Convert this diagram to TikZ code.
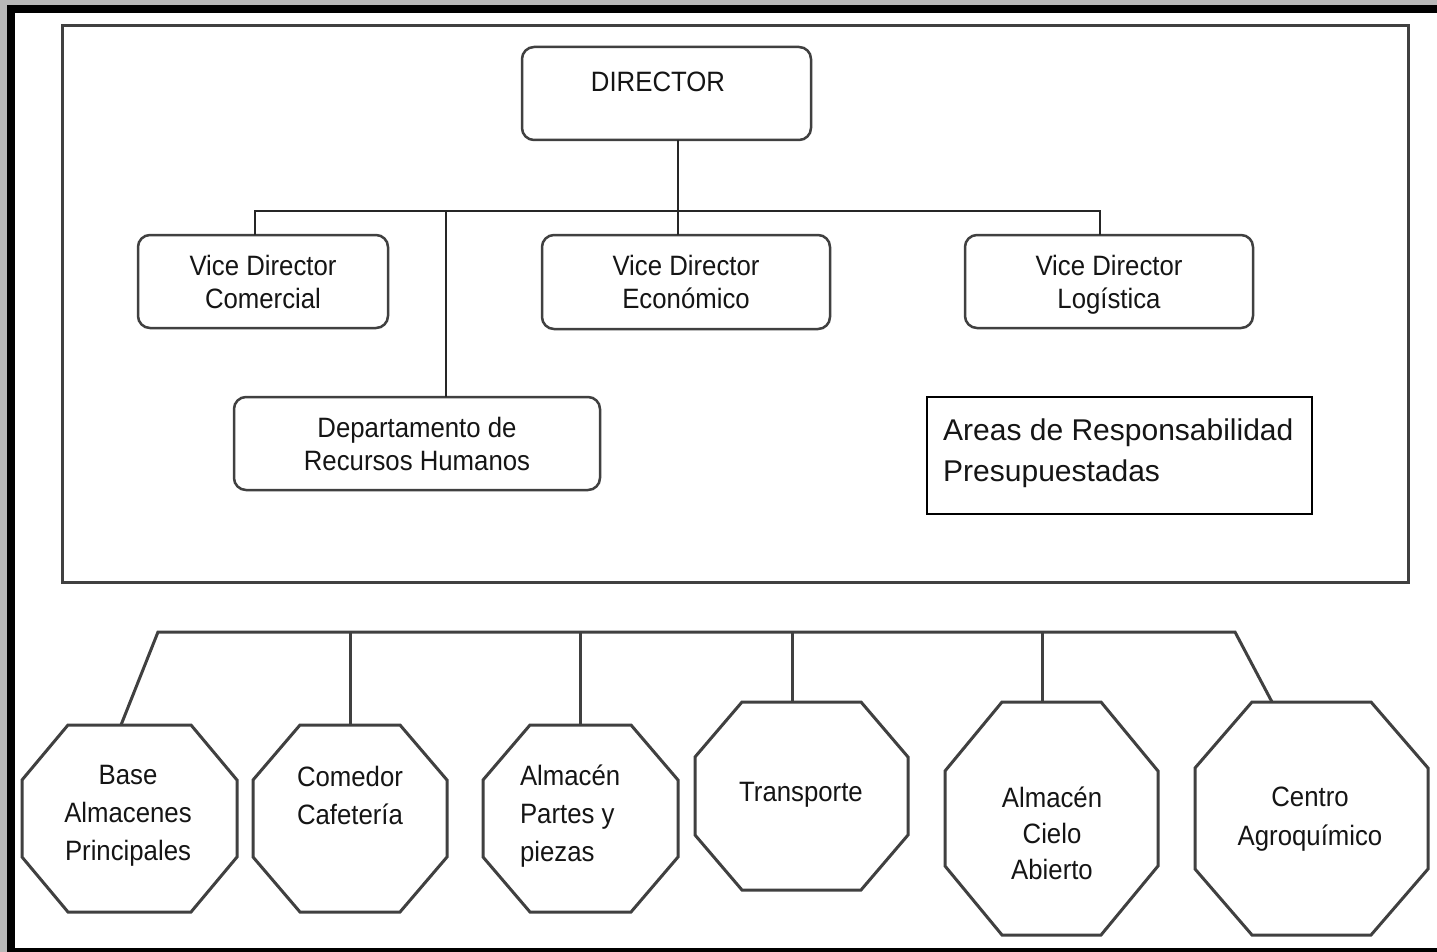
\documentclass[tikz,border=0pt]{standalone}
\usepackage{fontspec}
\setmainfont{Liberation Sans}[FakeStretch=0.92]
\newfontfamily\areafont{Liberation Sans}
\usetikzlibrary{calc}
\definecolor{edge}{HTML}{404040}
\definecolor{margin}{HTML}{B8B8B8}
\definecolor{ink}{HTML}{151515}
\newcommand\boxfont{\fontsize{28}{33}\selectfont}
\newcommand\octfont{\fontsize{28}{38}\selectfont}
\tikzset{
  rbox/.style={draw=edge, line width=2.5pt, rounded corners=12pt, inner sep=0pt, outer sep=0pt, align=center, font=\boxfont, text=ink},
  octbox/.style={inner sep=0pt, outer sep=0pt},
  octline/.style={draw=edge, line width=3pt, line join=miter},
  octtext/.style={inner sep=0pt, outer sep=0pt, text=ink, font=\octfont},
  wire/.style={draw=black!85, line width=2pt},
  wireb/.style={draw=edge, line width=3pt, line join=miter},
}
% #1 name, #2 x0, #3 y0, #4 x1, #5 y1, #6 cut x, #7 cut y
\newcommand\octagonnode[7]{%
  \node[octbox, minimum width={#4-#2}, minimum height={#5-#3}] (#1) at ({(#2+#4)/2},{(#3+#5)/2}) {};
  \draw[octline] ([xshift=#6pt]#1.north west) -- ([xshift=-#6pt]#1.north east)
    -- ([yshift=-#7pt]#1.north east) -- ([yshift=#7pt]#1.south east)
    -- ([xshift=-#6pt]#1.south east) -- ([xshift=#6pt]#1.south west)
    -- ([yshift=#7pt]#1.south west) -- ([yshift=-#7pt]#1.north west) -- cycle;}
\begin{document}
\begin{tikzpicture}[x=1pt,y=-1pt]
\useasboundingbox (0,0) rectangle (1437,952);
\fill[margin] (0,0) rectangle (1437,952);
\fill[black] (7,5) rectangle (1437,952);
\fill[white] (15,13) rectangle (1437,948);
\draw[edge, line width=3pt] (62,26) rectangle (1408,582);

% top boxes
\node[rbox, minimum width=289, minimum height=93, text height=20pt, text depth=23pt] (dir) at (666.5,93.5) {\hspace*{-17pt}DIRECTOR};
\node[rbox, minimum width=250, minimum height=93] (vdc) at (263,281.5) {Vice Director\\Comercial};
\node[rbox, minimum width=288, minimum height=94] (vde) at (686,282) {Vice Director\\Económico};
\node[rbox, minimum width=288, minimum height=93, text depth=0pt] (vdl) at (1109,281.5) {Vice Director\\Logística};
\node[rbox, minimum width=366, minimum height=93] (rh) at (417,443.5) {Departamento de\\Recursos Humanos};
\node[draw=black, line width=2pt, minimum width=385, minimum height=117, inner sep=0pt, outer sep=0pt] (area) at (1119.5,455.5) {};
\node[anchor=west, inner sep=0pt, align=left, font=\areafont\fontsize{30}{41}\selectfont, text=ink] (areatext) at (943,453) {Areas de Responsabilidad\\Presupuestadas};

% top connectors
\coordinate (busL) at (255,211);
\coordinate (busR) at (1100,211);
\coordinate (busD) at (678,211);
\coordinate (busH) at (446,211);
\draw[wire] (vdc.north -| busL) -- (busL) -- (busR) -- (vdl.north -| busR);
\draw[wire] (dir.south -| busD) -- (vde.north -| busD);
\draw[wire] (busH) -- (rh.north -| busH);

% octagons
\octagonnode{o1}{22}{725}{237}{912}{46}{55}
\octagonnode{o2}{253}{725}{447}{912}{47}{55}
\octagonnode{o3}{483}{725}{678}{912}{47}{55}
\octagonnode{o4}{695}{702}{908}{890}{47}{55}
\octagonnode{o5}{945}{702}{1158}{935}{57}{69}
\octagonnode{o6}{1195}{702}{1428}{935}{57}{66}

\node[octtext, align=center] (t1) at (128,816) {Base\\Almacenes\\Principales};
\node[octtext, align=center] (t2) at (350,795) {Comedor\\Cafetería};
\node[octtext, align=left, anchor=west] (t3) at (520,816.5) {Almacén\\Partes y\\piezas};
\node[octtext, align=center] (t4) at (801,795) {Transporte};
\node[octtext, align=center, font=\fontsize{28}{36}\selectfont] (t5) at (1052,833) {Almacén\\Cielo\\Abierto};
\node[octtext, align=center, font=\fontsize{28}{39}\selectfont] (t6) at (1310,819) {Centro\\Agroquímico};

% bottom connectors
\coordinate (bL) at (158,632);
\coordinate (bR) at (1235,632);
\coordinate (b4) at (792,632);
\coordinate (b5) at (1042,632);
\draw[wireb] ([xshift=-8.5pt]o1.north) -- (bL) -- (bR) -- ([xshift=-39.5pt]o6.north);
\draw[wireb] (o2.north |- bL) -- (o2.north);
\draw[wireb] (o3.north |- bL) -- (o3.north);
\draw[wireb] (b4) -- (o4.north -| b4);
\draw[wireb] (b5) -- (o5.north -| b5);
\end{tikzpicture}
\end{document}
